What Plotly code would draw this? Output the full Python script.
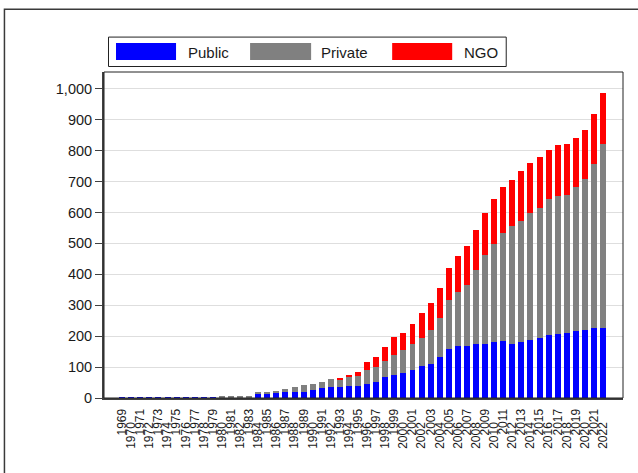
import plotly.graph_objects as go

years = [str(y) for y in range(1969, 2023)]
public = [2, 2, 2, 2, 2, 2, 2, 2, 2, 2, 2,
          2, 2, 2, 2,
          16, 16, 15, 19, 21, 21, 26, 32, 37, 34, 39, 39, 46, 51, 68, 73, 82, 92,
          104, 111, 134, 159, 169, 169, 175, 176, 182, 184, 175, 181, 188, 195,
          205, 206, 209, 216, 221, 226, 227]
private = [0, 0, 0, 0, 0, 0, 0, 0, 0, 0, 0,
           5, 5, 5, 5,
           4, 5, 9, 10, 13, 20, 19, 20, 23, 26, 28, 33, 43, 48, 52, 67, 72, 82,
           91, 110, 126, 158, 175, 197, 240, 287, 316, 351, 381, 392, 410, 420,
           437, 446, 448, 465, 487, 530, 595]
ngo = [0] * 24 + [3, 9, 13, 28, 34, 44, 56, 56, 65,
                  80, 86, 96, 103, 114, 126, 129, 135, 146, 146, 149, 160, 162, 163,
                  161, 166, 165, 160, 158, 162, 165]
series_names = ["Public", "Private", "NGO"]
series_colors = ["#0000ff", "#808080", "#ff0000"]
y_ticks = list(range(0, 1001, 100))

# staggered x labels (every other one pushed away from the axis)
tick_text = [y if i % 2 == 0 else y + "\u00a0" * 4 for i, y in enumerate(years)]

W, H = 638, 473
L, R, T, B = 104, 622.7, 71.5, 398.3
pw, ph = R - L, B - T


def px(x):
    return (x - L) / pw


def py(y):
    return (B - y) / ph


FONT = "Liberation Sans, Arial, sans-serif"
TXT = "#1a1a1a"

fig = go.Figure()
for name, vals, col in zip(series_names, [public, private, ngo], series_colors):
    fig.add_trace(go.Bar(x=years, y=vals, name=name, marker=dict(color=col, line=dict(width=0)),
                         width=0.66, showlegend=False))

shapes = [
    # outer frame
    dict(type="rect", xref="paper", yref="paper", x0=px(4.5), x1=px(660), y0=py(8.5), y1=py(500),
         line=dict(color="#3a3a3a", width=1.5), fillcolor="rgba(0,0,0,0)", layer="above"),
    # plot box
    dict(type="rect", xref="paper", yref="paper", x0=0, x1=1, y0=0, y1=1,
         line=dict(color="#222222", width=1), fillcolor="rgba(0,0,0,0)", layer="above"),
    # legend box
    dict(type="rect", xref="paper", yref="paper", x0=px(108.5), x1=px(506), y0=py(66), y1=py(36.5),
         line=dict(color="#222222", width=1), fillcolor="white", layer="above"),
]
annotations = []
sw = [(116, 176, 186), (250, 311, 319), (392, 452, 462)]
for (x0, x1, tx), name, col in zip(sw, series_names, series_colors):
    shapes.append(dict(type="rect", xref="paper", yref="paper", x0=px(x0), x1=px(x1), y0=py(59.5), y1=py(42.5),
                       line=dict(width=0), fillcolor=col, layer="above"))
    annotations.append(dict(text=name, xref="paper", yref="paper", x=px(tx), y=py(51.5),
                            xanchor="left", yanchor="middle", showarrow=False,
                            font=dict(family=FONT, size=15, color=TXT)))

fig.update_layout(
    width=W, height=H,
    margin=dict(l=L, r=W - R, t=T, b=H - B, pad=0),
    barmode="stack",
    bargap=0.34,
    paper_bgcolor="white", plot_bgcolor="white",
    font=dict(family=FONT, color=TXT),
    shapes=shapes, annotations=annotations,
    showlegend=False,
)
fig.update_xaxes(
    type="category", range=[-2, 55.2], tickmode="array", tickvals=years, ticktext=tick_text,
    tickangle=-90, tickfont=dict(size=12, family=FONT, color=TXT), ticks="", showgrid=False,
    showline=True, linecolor="#404040", linewidth=2, ticklabelstandoff=4,
)
fig.update_yaxes(
    range=[0, ph / 0.31], tickvals=y_ticks, tickformat=",", ticks="outside", ticklen=7,
    tickcolor="#404040", tickwidth=1, tickfont=dict(size=14.5, family=FONT, color=TXT),
    showgrid=True, gridcolor="#dedede", gridwidth=1, zeroline=False,
    showline=True, linecolor="#404040", linewidth=2,
)

fig.write_html("out.html", config={"displayModeBar": False},
               post_script="document.body.style.margin='0';document.body.style.overflow='hidden';")
